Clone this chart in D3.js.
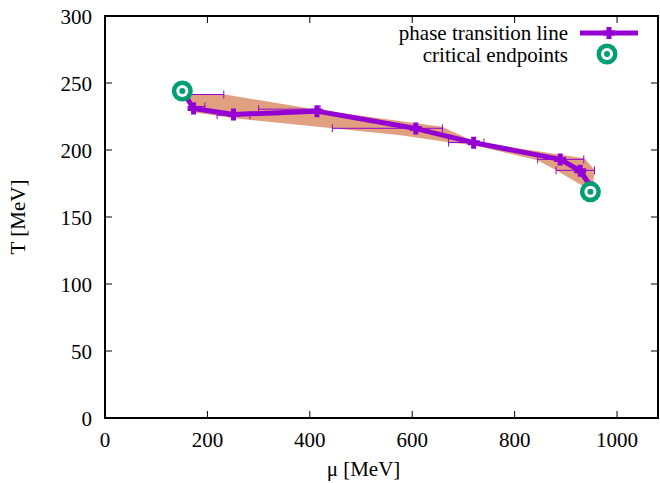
<!DOCTYPE html>
<html>
<head>
<meta charset="utf-8">
<script src="https://cdn.jsdelivr.net/npm/d3@7"></script>
<style>
  body { margin: 0; background: #fff; }
  svg { display: block; }
  text { font-family: "Liberation Serif", "Times New Roman", "DejaVu Serif", serif; fill: #000; }
</style>
</head>
<body>
<svg id="chart" width="660" height="483"></svg>
<script>
// ---- data ----
const xTicks = [0, 200, 400, 600, 800, 1000];
const yTicks = [0, 50, 100, 150, 200, 250, 300];

// phase transition line points
const lineMu = [155, 173, 251, 414, 607, 720, 889, 928, 950];
const lineT  = [242, 231, 226.5, 229, 216, 205.5, 193, 184.5, 172];

// horizontal error bars [T, muLow, muHigh]
const errT    = [241.4, 232.5, 226, 230.5, 216.2, 205.6, 193, 184.8];
const errLow  = [150, 175, 219, 300, 444, 671, 845, 881];
const errHigh = [232, 195, 283, 420, 659, 740, 935, 956];

// uncertainty band: upper/right edge and lower/left edge
const bandUpperMu = [155, 232, 414, 658, 720, 832, 936, 957, 953, 949];
const bandUpperT  = [241.6, 241.6, 230, 217.3, 206.5, 199.8, 193.8, 184.8, 175.9, 171.4];
const bandLowerMu = [159, 173, 251, 444, 578, 671, 720, 845, 881, 934, 949];
const bandLowerT  = [236.4, 228.2, 223.7, 216.2, 211, 205.8, 203.5, 192.3, 184.8, 172.9, 169.9];

// critical endpoints
const cepMu = [151, 948];
const cepT  = [244, 168.8];

// ---- layout ----
const svg = d3.select("#chart");
const L = 105, R = 658, T = 16, B = 418;
const x = d3.scaleLinear().domain([0, 1080]).range([L, R]);
const y = d3.scaleLinear().domain([0, 300]).range([B, T]);

const purple = "#9400d3", green = "#009e73", bandFill = "#e1a07f";

// band
const bandPts = bandUpperMu.map((m, i) => [x(m), y(bandUpperT[i])])
  .concat(bandLowerMu.map((m, i) => [x(m), y(bandLowerT[i])]).reverse());
svg.append("path")
  .attr("d", d3.line()(bandPts) + "Z")
  .attr("fill", bandFill).attr("stroke", "none");

// error bars
const eb = svg.append("g").attr("stroke", purple).attr("stroke-width", 1);
errT.forEach((t, i) => {
  const yy = y(t), x0 = x(errLow[i]), x1 = x(errHigh[i]);
  eb.append("line").attr("x1", x0).attr("x2", x1).attr("y1", yy).attr("y2", yy);
  eb.append("line").attr("x1", x0).attr("x2", x0).attr("y1", yy - 4).attr("y2", yy + 4);
  eb.append("line").attr("x1", x1).attr("x2", x1).attr("y1", yy - 4).attr("y2", yy + 4);
});

// line
const pts = lineMu.map((m, i) => [x(m), y(lineT[i])]);
svg.append("path")
  .attr("d", d3.line()(pts))
  .attr("fill", "none").attr("stroke", purple)
  .attr("stroke-width", 5).attr("stroke-linejoin", "round");

function plus(g, cx, cy, s) {
  g.append("path")
    .attr("d", `M${cx - s},${cy}H${cx + s}M${cx},${cy - s}V${cy + s}`)
    .attr("stroke", purple).attr("stroke-width", 5).attr("fill", "none");
}
const pg = svg.append("g");
pts.slice(1).forEach(p => plus(pg, p[0], p[1], 6));

function ring(g, cx, cy) {
  g.append("circle").attr("cx", cx).attr("cy", cy).attr("r", 10.5).attr("fill", green);
  g.append("circle").attr("cx", cx).attr("cy", cy).attr("r", 6).attr("fill", "#fff");
  g.append("circle").attr("cx", cx).attr("cy", cy).attr("r", 3).attr("fill", green);
}
const cg = svg.append("g");
cepMu.forEach((m, i) => ring(cg, x(m), y(cepT[i])));

// axes (ticks inward, mirrored)
const tickLen = 7;
const ax = svg.append("g").attr("stroke", "#000").attr("stroke-width", 1);
xTicks.forEach(v => {
  ax.append("line").attr("x1", x(v)).attr("x2", x(v)).attr("y1", B).attr("y2", B - tickLen);
  ax.append("line").attr("x1", x(v)).attr("x2", x(v)).attr("y1", T).attr("y2", T + tickLen);
});
yTicks.forEach(v => {
  ax.append("line").attr("x1", L).attr("x2", L + tickLen).attr("y1", y(v)).attr("y2", y(v));
  ax.append("line").attr("x1", R).attr("x2", R - tickLen).attr("y1", y(v)).attr("y2", y(v));
});
svg.append("rect").attr("x", L).attr("y", T).attr("width", R - L).attr("height", B - T)
  .attr("fill", "none").attr("stroke", "#000").attr("stroke-width", 2);

const fs = 21;
svg.append("g").selectAll("text").data(xTicks).join("text")
  .attr("x", d => x(d)).attr("y", 447).attr("text-anchor", "middle")
  .attr("font-size", fs).text(d => d);
svg.append("g").selectAll("text").data(yTicks).join("text")
  .attr("x", 92).attr("y", d => y(d) + 7.5).attr("text-anchor", "end")
  .attr("font-size", fs).text(d => d);

svg.append("text").attr("x", (L + R) / 2 - 18).attr("y", 476).attr("text-anchor", "middle")
  .attr("font-size", fs).text("μ [MeV]");
svg.append("text").attr("transform", `translate(25,${(T + B) / 2}) rotate(-90)`)
  .attr("text-anchor", "middle").attr("font-size", fs).text("T [MeV]");

// legend
const lg = svg.append("g");
lg.append("text").attr("x", 568).attr("y", 40).attr("text-anchor", "end").attr("font-size", fs)
  .text("phase transition line");
lg.append("text").attr("x", 568).attr("y", 62).attr("text-anchor", "end").attr("font-size", fs)
  .text("critical endpoints");
lg.append("line").attr("x1", 580).attr("x2", 638).attr("y1", 33).attr("y2", 33)
  .attr("stroke", purple).attr("stroke-width", 5);
plus(lg, 609, 33, 6);
ring(lg, 607, 54);
</script>
</body>
</html>
